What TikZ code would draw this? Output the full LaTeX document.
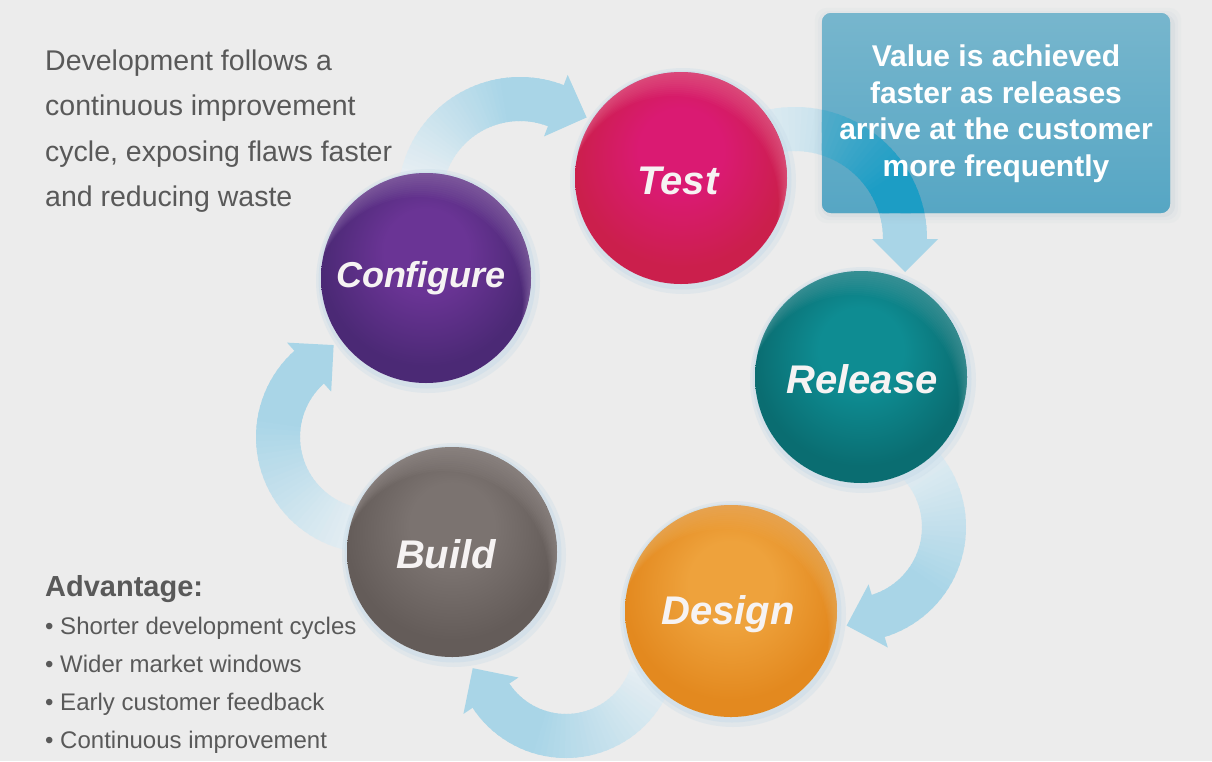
\documentclass[tikz,border=0pt]{standalone}
\usepackage{fontspec}
\setmainfont{Liberation Sans}
\usetikzlibrary{calc}

\definecolor{bg}{HTML}{ECECEC}
\definecolor{bodytext}{HTML}{595959}
\definecolor{arrowhead}{HTML}{A9D5E7}
\definecolor{arrowtail}{HTML}{E8EFF3}
\definecolor{halo}{HTML}{C6DAE8}
\definecolor{boxtop}{HTML}{77B6CD}
\definecolor{boxbot}{HTML}{56A6C4}
\definecolor{boxarrow}{HTML}{1C9DC5}
\definecolor{boxshadow}{HTML}{9DB6C4}
\definecolor{labeltext}{HTML}{F6F3F3}

% ball colours: middle, edge, rim
\definecolor{testmid}{HTML}{DA1A72}
\definecolor{testedge}{HTML}{CB1F4C}
\definecolor{testrim}{HTML}{F6A6C6}
\definecolor{confmid}{HTML}{6A3495}
\definecolor{confedge}{HTML}{4B2975}
\definecolor{confrim}{HTML}{CDB0DC}
\definecolor{relmid}{HTML}{0E8C92}
\definecolor{reledge}{HTML}{0A6D71}
\definecolor{relrim}{HTML}{92C8CC}
\definecolor{desmid}{HTML}{EEA23C}
\definecolor{desedge}{HTML}{E3891F}
\definecolor{desrim}{HTML}{FAD3A2}
\definecolor{bldmid}{HTML}{7B7370}
\definecolor{bldedge}{HTML}{645C59}
\definecolor{bldrim}{HTML}{CCC4C2}

% colours of one ball, set before each ball is shaded
\colorlet{orbmid}{red}
\colorlet{orbedge}{blue}
\pgfdeclareradialshading[orbmid,orbedge]{orbsh}{\pgfpoint{0bp}{8bp}}{%
  color(0bp)=(orbmid); color(10bp)=(orbmid); color(25bp)=(orbedge); color(50bp)=(orbedge)}

% bent arrow on an arc: centre, radius, start angle, end angle, tail colour, head colour
\newcommand\cyclearrow[6]{%
  \pgfmathsetmacro\aro{#2+22}%
  \pgfmathsetmacro\ari{#2-22}%
  \pgfmathsetmacro\aho{#2+33}%
  \pgfmathsetmacro\ahi{#2-33}%
  \foreach \i in {0,...,39}{%
    \pgfmathsetmacro\ta{(#3)+((#4)-(#3))*\i/40}%
    \pgfmathsetmacro\tb{(#3)+((#4)-(#3))*(\i+1.4)/40}%
    \pgfmathsetmacro\pc{min(100,\i*100/28)}%
    \fill[#6!\pc!#5] ($(#1)+(\ta:\aro)$) arc[start angle=\ta,end angle=\tb,radius=\aro]
      -- ($(#1)+(\tb:\ari)$) arc[start angle=\tb,end angle=\ta,radius=\ari] -- cycle;
  }%
  \fill[#6] ($(#1)+(#4:\aho)$) -- ($(#1)+(#4:#2)+(#4+90:33)$) -- ($(#1)+(#4:\ahi)$) -- cycle;
}

% glossy ball: node name, middle colour, edge colour, rim colour, radius
\newcommand\orb[5]{%
  \pgfmathsetmacro\orbA{#5+7}%
  \pgfmathsetmacro\orbB{#5+3.5}%
  \fill[halo,opacity=.30] ($(#1)+(2,3)$) circle[radius=\orbA];
  \fill[halo,opacity=.45] ($(#1)+(1,2)$) circle[radius=\orbB];
  \colorlet{orbmid}{#2}\colorlet{orbedge}{#3}%
  \shade[shading=orbsh] (#1) circle[radius=#5];
  \begin{scope}
    \clip (#1) circle[radius=#5];
    \foreach \d in {2,4,...,24}
      \fill[#4,opacity=.035,even odd rule] (#1) circle[radius=#5] ($(#1)+(-.35*\d,\d)$) circle[radius=#5];
  \end{scope}
}

\tikzset{
  orbnode/.style={circle,inner sep=0pt,minimum size=212pt},
  orblabel/.style={font=\fontsize{40}{40}\selectfont\bfseries\itshape,text=labeltext},
  bodyline/.style={font=\fontsize{28.5}{28.5}\selectfont,text=bodytext,anchor=base west,inner sep=0pt},
  headline/.style={font=\fontsize{29}{29}\selectfont\bfseries,text=bodytext,anchor=base west,inner sep=0pt},
  bulletline/.style={font=\fontsize{24}{24}\selectfont,text=bodytext,anchor=base west,inner sep=0pt},
  calloutbox/.style={rounded corners=9pt,top color=boxtop,bottom color=boxbot,
    minimum width=348pt,minimum height=200pt,inner sep=0pt},
  callouttext/.style={font=\fontsize{30}{36.5}\selectfont\bfseries,align=center,text=white},
}

\begin{document}
\begin{tikzpicture}[x=1pt,y=-1pt]
\useasboundingbox (0,0) rectangle (1212,761);
\fill[bg] (0,0) rectangle (1212,761);

% centres of the bent arrows
\coordinate (arcA) at (520,199);
\coordinate (arcB) at (795,239);
\coordinate (arcC) at (851,527);
\coordinate (arcD) at (566,646);
\coordinate (arcE) at (372,437);

% arrows between the stages
\cyclearrow{arcA}{100}{190}{291}{arrowtail}{arrowhead}
\cyclearrow{arcB}{110}{240}{360}{arrowtail}{arrowhead}
\cyclearrow{arcC}{93}{-55}{73}{arrowtail}{arrowhead}
\cyclearrow{arcD}{90}{15}{146.5}{arrowtail}{arrowhead}
\cyclearrow{arcE}{94}{95}{228}{arrowtail}{arrowhead}

% stages
\node[orbnode] (test) at (681,178) {};
\node[orbnode] (configure) at (426,278) {};
\node[orbnode] (release) at (861,377) {};
\node[orbnode] (design) at (731,611) {};
\node[orbnode] (build) at (452,552) {};

\orb{test}{testmid}{testedge}{testrim}{106}
\orb{configure}{confmid}{confedge}{confrim}{105}
\orb{release}{relmid}{reledge}{relrim}{106}
\orb{design}{desmid}{desedge}{desrim}{106}
\orb{build}{bldmid}{bldedge}{bldrim}{105}

% stage names
\node[orblabel] (test-label) at ($(test)+(-3,3)$) {Test};
\node[orblabel,font=\fontsize{36}{36}\selectfont\bfseries\itshape] (configure-label) at ($(configure)+(-5,0)$) {Configure};
\node[orblabel] (release-label) at ($(release)+(1,2)$) {Release};
\node[orblabel] (design-label) at ($(design)+(-3,3)$) {Design};
\node[orblabel] (build-label) at ($(build)+(-6,2)$) {Build};

% callout with its soft shadow
\node[calloutbox] (valuebox-base) at (996,113) {};
\begin{scope}
  \foreach \s/\o in {3/.10,6/.07,9/.05}
    \fill[boxshadow,opacity=\o,rounded corners=12pt]
      ($(valuebox-base.south west)+(-\s+2,\s+1)$) rectangle ($(valuebox-base.north east)+(\s+2,-\s+4)$);
\end{scope}
\node[calloutbox] (valuebox) at (996,113) {};
\begin{scope}
  \clip[rounded corners=9pt] (valuebox.south west) rectangle (valuebox.north east);
  \cyclearrow{arcB}{110}{250}{360}{boxtop}{boxarrow}
\end{scope}
\node[callouttext] (valuetext) at (996,113.5) {Value is achieved\\faster as releases\\arrive at the customer\\more frequently};

% description
\node[bodyline] (intro1) at (45,70) {Development follows a};
\node[bodyline] (intro2) at (45,115.5) {continuous improvement};
\node[bodyline] (intro3) at (45,161) {cycle, exposing flaws faster};
\node[bodyline] (intro4) at (45,206.5) {and reducing waste};

% advantages
\node[headline] (adv) at (45,596.5) {Advantage:};
\node[bulletline] (adv1) at (45,634.5) {• Shorter development cycles};
\node[bulletline] (adv2) at (45,672.5) {• Wider market windows};
\node[bulletline] (adv3) at (45,710.5) {• Early customer feedback};
\node[bulletline] (adv4) at (45,748.5) {• Continuous improvement};
\end{tikzpicture}
\end{document}
